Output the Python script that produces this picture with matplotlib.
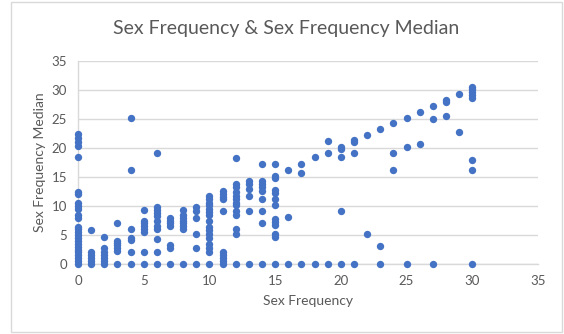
import numpy as np
import matplotlib
matplotlib.use("Agg")
import matplotlib.pyplot as plt
from matplotlib.patches import Rectangle

# sex frequency (x) -> list of sex frequency median values (y)
freq_0 = [22.5, 21.8, 21.0, 20.3, 18.5, 12.5, 12.0, 10.5, 10.0, 9.5, 8.5, 8.0,
          6.3, 6.0, 5.5, 5.0, 4.5, 4.0, 3.5, 3.0, 2.5, 2.0, 1.5, 1.0, 0.5, 0.0]
freq_1 = [5.8, 2.1, 1.5, 1.0, 0.5, 0.0]
freq_2 = [4.7, 2.7, 2.1, 1.5, 1.0, 0.5, 0.0]
freq_3 = [7.1, 4.0, 3.6, 3.2, 2.7, 2.2, 0.0]
freq_4 = [25.1, 16.2, 6.1, 4.5, 4.2, 2.0, 0.0]
freq_5 = [9.3, 7.5, 7.0, 6.5, 6.0, 5.5, 2.0, 0.0]
freq_6 = [19.1, 9.8, 9.3, 8.8, 8.2, 7.5, 6.5, 6.0, 4.3, 2.0, 0.0]
freq_7 = [8.0, 7.5, 7.0, 6.5, 3.3, 2.8, 0.0]
freq_8 = [9.3, 8.5, 8.0, 7.5, 7.0, 6.5, 6.0, 0.0]
freq_9 = [9.8, 9.2, 8.0, 5.2, 2.7, 0.0]
freq_10 = [11.8, 11.2, 10.6, 10.1, 9.5, 8.9, 8.4, 7.5, 6.4, 5.8, 5.2, 4.4,
           3.5, 2.7, 2.0, 0.0]
freq_11 = [12.6, 12.1, 11.5, 11.2, 9.2, 2.1, 1.5, 1.0, 0.5, 0.0]
freq_12 = [18.3, 13.8, 13.2, 12.4, 11.8, 11.2, 10.6, 10.1, 9.2, 8.4, 6.0, 5.2, 0.0]
freq_13 = [14.3, 13.8, 13.0, 11.8, 9.2, 0.0]
freq_14 = [17.3, 14.3, 13.8, 13.2, 12.6, 11.2, 9.2, 7.1, 0.0]
freq_15 = [17.3, 15.2, 14.9, 12.7, 12.2, 11.2, 10.2, 7.8, 7.3, 6.7, 5.2, 4.7, 0.0]
freq_16 = [16.2, 8.1, 0.0]
freq_17 = [17.3, 15.7, 0.0]
freq_18 = [18.5, 0.0]
freq_19 = [21.2, 19.1, 0.0]
freq_20 = [20.2, 19.9, 18.5, 9.1, 0.0]
freq_21 = [21.3, 21.0, 19.1, 0.0]
freq_22 = [22.2, 5.2]
freq_23 = [23.3, 3.1, 0.0]
freq_24 = [24.3, 19.1, 16.2]
freq_25 = [25.1, 20.1, 0.0]
freq_26 = [26.2, 20.7]
freq_27 = [27.3, 25.0, 0.0]
freq_28 = [28.3, 27.9, 25.6]
freq_29 = [29.3, 22.7]
freq_30 = [30.5, 30.2, 29.7, 29.1, 28.7, 17.9, 16.2, 0.0]

columns = [freq_0, freq_1, freq_2, freq_3, freq_4, freq_5, freq_6, freq_7,
           freq_8, freq_9, freq_10, freq_11, freq_12, freq_13, freq_14,
           freq_15, freq_16, freq_17, freq_18, freq_19, freq_20, freq_21,
           freq_22, freq_23, freq_24, freq_25, freq_26, freq_27, freq_28,
           freq_29, freq_30]

xs = []
ys = []
for freq, medians in enumerate(columns):
    xs += [freq] * len(medians)
    ys += medians

plt.rcParams['font.family'] = ['Lato', 'DejaVu Sans']
text_color = '#595959'
grid_color = '#D9D9D9'

fig = plt.figure(figsize=(5.64, 3.34), dpi=100)
fig.patches.append(Rectangle((11 / 564, 2 / 334), 551 / 564, 330 / 334,
                             transform=fig.transFigure, fill=False,
                             edgecolor=grid_color, linewidth=1.0))

ax = fig.add_axes([78 / 564, 70 / 334, 460 / 564, 203 / 334])
ax.scatter(xs, ys, s=28, color='#4472C4', zorder=3, linewidths=0, clip_on=False)

ax.set_xlim(0, 35)
ax.set_ylim(0, 35)
ax.set_xticks(range(0, 36, 5))
ax.set_yticks(range(0, 36, 5))
ax.grid(axis='y', color=grid_color, linewidth=1.0)
ax.set_axisbelow(True)

for side in ['top', 'right']:
    ax.spines[side].set_visible(False)
for side in ['left', 'bottom']:
    ax.spines[side].set_color(grid_color)
    ax.spines[side].set_linewidth(1.0)

ax.tick_params(length=0, labelsize=9.5, labelcolor=text_color, pad=8)
ax.set_xlabel('Sex Frequency', fontsize=10, color=text_color, labelpad=6)
ax.set_ylabel('Sex Frequency Median', fontsize=10, color=text_color, labelpad=4)
fig.text(0.508, 0.915, 'Sex Frequency & Sex Frequency Median', ha='center',
         va='center', fontsize=14, color=text_color)

fig.savefig('out.png', dpi=100)
